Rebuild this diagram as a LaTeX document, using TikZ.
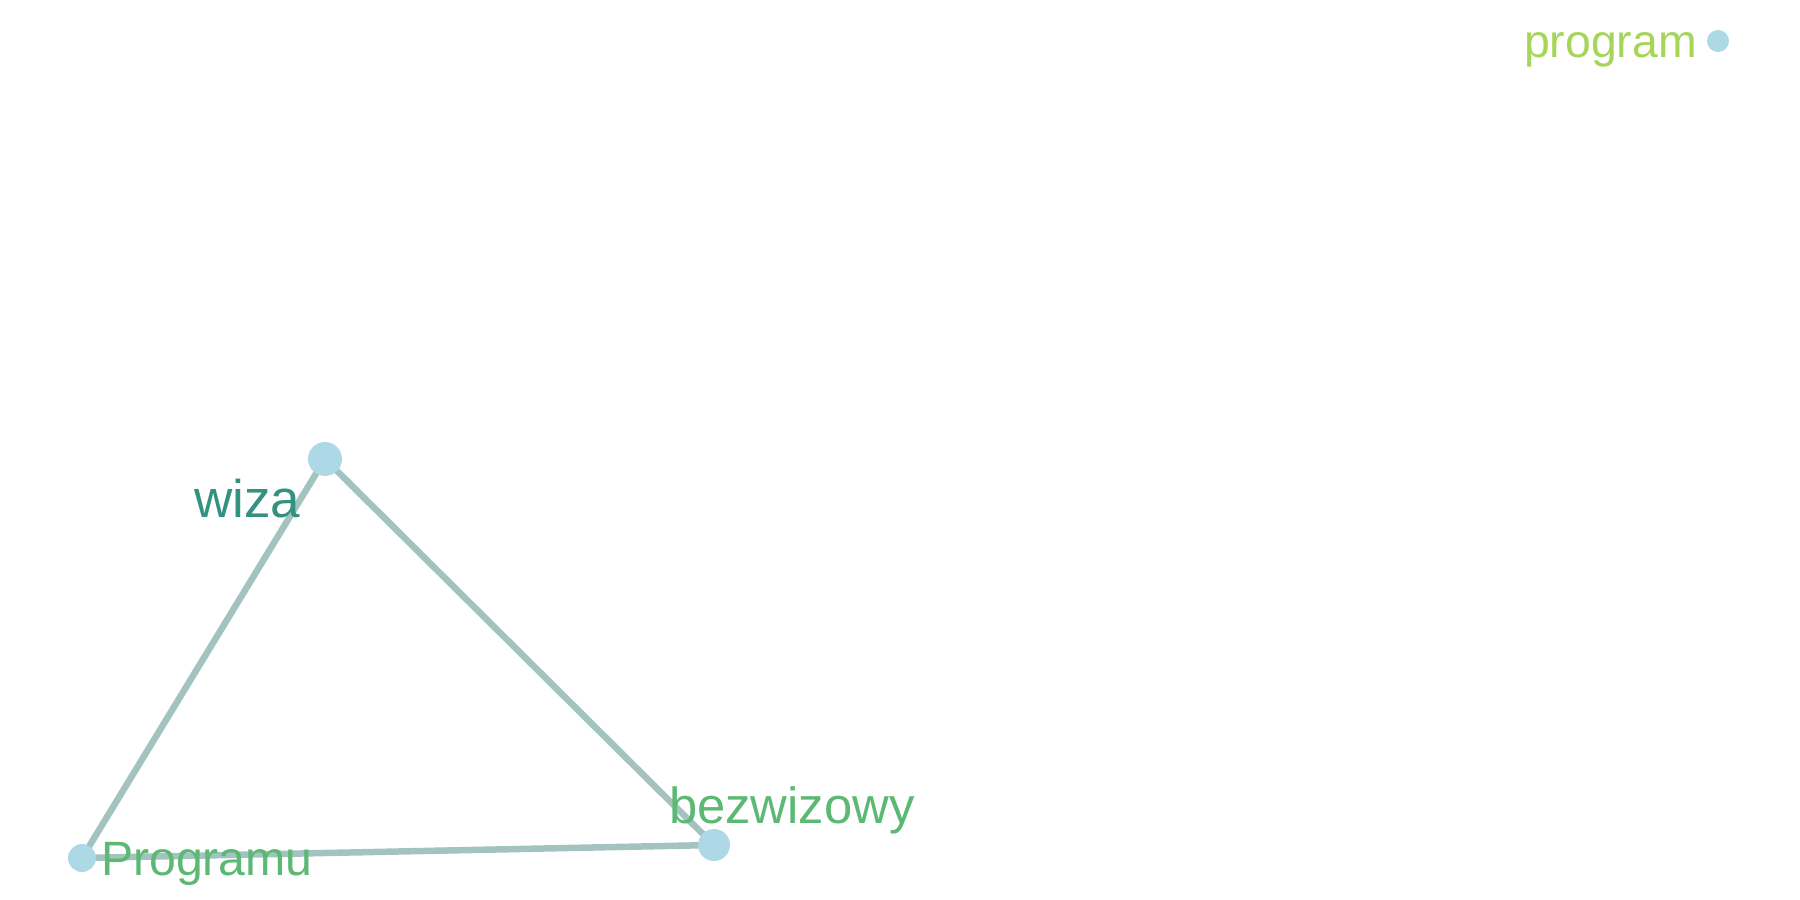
\documentclass[tikz,border=0pt]{standalone}
\usepackage{fontspec}
\setmainfont{Liberation Sans}
\definecolor{nodefill}{HTML}{ADD8E6}
\definecolor{edgecol}{HTML}{A3C3C0}
\definecolor{tealtext}{HTML}{35917F}
\definecolor{greentext}{HTML}{5BB974}
\definecolor{limetext}{HTML}{A5D65A}
\tikzset{
  vert/.style={circle,fill=nodefill,draw=none,inner sep=0pt},
  edge/.style={draw=edgecol,line width=6.5pt},
  lbl/.style={anchor=base west,inner sep=0pt,outer sep=0pt}
}
\begin{document}
\begin{tikzpicture}[x=1pt,y=-1pt]
\useasboundingbox (0,0) rectangle (1800,900);
\coordinate (wiza) at (325,459);
\coordinate (programu) at (82,858);
\coordinate (bezwizowy) at (714,845);
\path[edge] (wiza) -- (programu);
\path[edge] (wiza) -- (bezwizowy);
\path[edge] (programu) -- (bezwizowy);
\node[vert,minimum size=34pt] (nwiza) at (wiza) {};
\node[vert,minimum size=28pt] (nprogramu) at (programu) {};
\node[vert,minimum size=32pt] (nbez) at (bezwizowy) {};
\node[vert,minimum size=22pt] (nprogram) at (1718,41) {};
\node[lbl,text=tealtext,font=\fontsize{53}{60}\selectfont] (twiza) at (194,517) {wiza};
\node[lbl,text=greentext,font=\fontsize{48.2}{56}\selectfont] (tprogramu) at (101,875) {Programu};
\node[lbl,text=greentext,font=\fontsize{50.8}{58}\selectfont] (tbez) at (669,823) {bezwizowy};
\node[lbl,text=limetext,font=\fontsize{46.4}{52}\selectfont] (tprog) at (1524,57) {program};
\end{tikzpicture}
\end{document}
